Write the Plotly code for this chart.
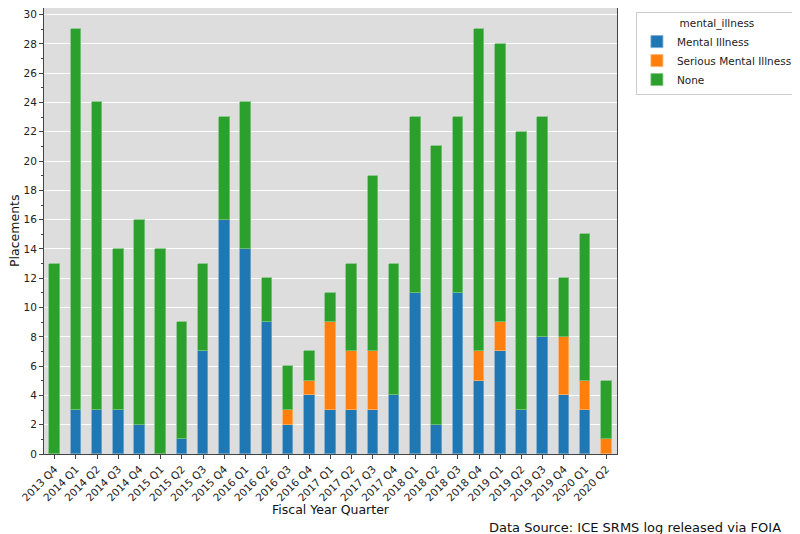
import plotly.graph_objects as go

# Placements per fiscal year quarter, split by mental illness category
quarters = [
    "2013 Q4",
    "2014 Q1", "2014 Q2", "2014 Q3", "2014 Q4",
    "2015 Q1", "2015 Q2", "2015 Q3", "2015 Q4",
    "2016 Q1", "2016 Q2", "2016 Q3", "2016 Q4",
    "2017 Q1", "2017 Q2", "2017 Q3", "2017 Q4",
    "2018 Q1", "2018 Q2", "2018 Q3", "2018 Q4",
    "2019 Q1", "2019 Q2", "2019 Q3", "2019 Q4",
    "2020 Q1", "2020 Q2",
]
mental_illness = [0, 3, 3, 3, 2, 0, 1, 7, 16, 14, 9, 2, 4, 3, 3, 3, 4, 11, 2, 11, 5, 7, 3, 8, 4, 3, 0]
serious_mental_illness = [0, 0, 0, 0, 0, 0, 0, 0, 0, 0, 0, 1, 1, 6, 4, 4, 0, 0, 0, 0, 2, 2, 0, 0, 4, 2, 1]
no_mental_illness = [13, 26, 21, 11, 14, 14, 8, 6, 7, 10, 3, 3, 2, 2, 6, 12, 9, 12, 19, 12, 22, 19, 19, 15, 4, 10, 4]

series = [
    ("Mental Illness", mental_illness, "#1f77b4", "#76a9d0"),
    ("Serious Mental Illness", serious_mental_illness, "#ff7f0e", "#ffb36e"),
    ("None", no_mental_illness, "#2ca02c", "#7fc47f"),
]

fig = go.Figure()
for name, values, color, edge in series:
    fig.add_trace(
        go.Bar(
            x=list(range(len(quarters))),
            y=values,
            name=name,
            width=0.5,
            marker={"color": color, "line": {"color": edge, "width": 0.8}},
        )
    )

axis_color = "#444444"
tick_font = {"family": "DejaVu Sans", "size": 10.5, "color": "#222222"}
label_font = {"family": "DejaVu Sans", "size": 12.5, "color": "#111111"}

# the page body adds 8px around the figure, so the figure is 8px smaller
fig.update_layout(
    barmode="stack",
    width=792,
    height=526,
    margin={"l": 36, "r": 183, "t": 0, "b": 80, "autoexpand": False},
    paper_bgcolor="white",
    plot_bgcolor="#dddddd",
    font={"family": "DejaVu Sans", "color": "#222222"},
    bargap=0,
    legend={
        "title": {"text": "mental_illness", "side": "top center", "font": {"size": 10.5}},
        "x": 1.033,
        "xanchor": "left",
        "y": 0.99,
        "yanchor": "top",
        "bordercolor": "#cccccc",
        "borderwidth": 1,
        "bgcolor": "white",
        "font": {"size": 10.5},
        "traceorder": "normal",
        "itemwidth": 30,
    },
    annotations=[
        {
            "text": "Fiscal Year Quarter",
            "xref": "paper",
            "yref": "paper",
            "x": 0.5,
            "y": -0.1244,
            "xanchor": "center",
            "yanchor": "middle",
            "showarrow": False,
            "font": label_font,
        },
        {
            "text": "Placements",
            "xref": "paper",
            "yref": "paper",
            "x": -0.0524,
            "y": 0.5,
            "xanchor": "center",
            "yanchor": "middle",
            "textangle": -90,
            "showarrow": False,
            "font": label_font,
        },
        {
            "text": "Data Source: ICE SRMS log released via FOIA",
            "xref": "paper",
            "yref": "paper",
            "x": 0.7731,
            "y": -0.1637,
            "xanchor": "left",
            "yanchor": "middle",
            "showarrow": False,
            "font": {"size": 13, "color": "#111111"},
        },
    ],
)

fig.update_xaxes(
    tickmode="array",
    tickvals=list(range(len(quarters))),
    ticktext=quarters,
    tickangle=-45,
    range=[-0.5, len(quarters) - 0.5],
    automargin=False,
    showgrid=False,
    ticks="outside",
    ticklen=4,
    tickcolor=axis_color,
    tickfont=tick_font,
    showline=True,
    linecolor=axis_color,
    linewidth=1,
    mirror=True,
)

fig.update_yaxes(
    range=[0, 30.45],
    dtick=2,
    tick0=0,
    automargin=False,
    showgrid=True,
    gridcolor="white",
    gridwidth=1,
    zeroline=False,
    ticks="outside",
    ticklen=4,
    tickcolor=axis_color,
    tickfont=tick_font,
    minor={"dtick": 1, "ticks": "outside", "ticklen": 2, "tickcolor": axis_color, "showgrid": False},
    showline=True,
    linecolor=axis_color,
    linewidth=1,
    mirror=True,
)

fig.write_html("out.html")
